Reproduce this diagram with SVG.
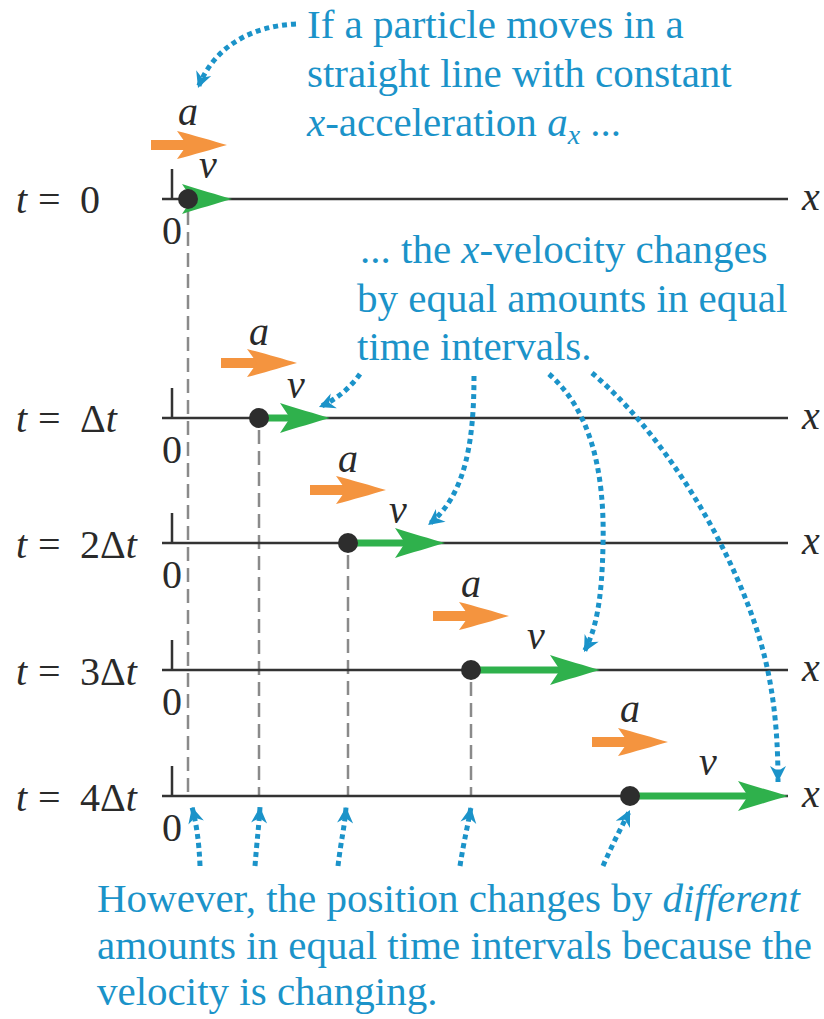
<svg xmlns="http://www.w3.org/2000/svg" width="824" height="1019" viewBox="0 0 824 1019">
<style>
text{font-family:'Liberation Serif','Times New Roman',Tinos,'DejaVu Serif',serif}
.lbl{font-size:40px;fill:#2a2a2a}
.it{font-style:italic}
.blue{font-size:41px;fill:#1b93c9}
.axis{stroke:#333;stroke-width:2.5;fill:none}
.dash{stroke:#8a8a8a;stroke-width:2.5;stroke-dasharray:14 7;fill:none}
.dot{fill:#2d2d2d}
.gs{stroke:#2fb14c;stroke-width:7;fill:none}
.g{fill:#2fb14c}
.o{fill:#f4943f}
.bl{stroke:#1b93c9;stroke-width:5;stroke-dasharray:5 4;fill:none;marker-end:url(#bh)}
</style>
<defs>
<path id="gh" d="M0,0 C-14,-4 -34,-10 -50,-15 L-40,0 L-50,15 C-34,10 -14,4 0,0Z"/>
<g id="oa"><rect x="-76" y="-5" width="40" height="10"/><path d="M0,0 C-14,-4 -34,-10 -50,-14 L-40,0 L-50,14 C-34,10 -14,4 0,0Z"/></g>
<marker id="bh" viewBox="-17 -9 19 18" refX="0" refY="0" markerWidth="19" markerHeight="18" orient="auto" markerUnits="userSpaceOnUse"><path d="M0,0 L-16,-8 L-11,0 L-16,8Z" fill="#1b93c9"/></marker>
</defs>

<g id="guides">
<line class="dash" x1="188" y1="211" x2="188" y2="796"/>
<line class="dash" x1="259" y1="430" x2="259" y2="796"/>
<line class="dash" x1="348" y1="555" x2="348" y2="796"/>
<line class="dash" x1="471" y1="682" x2="471" y2="796"/>
</g>

<g id="row0">
<path class="axis" d="M172,169 V199 M162,199 H788"/>
<text class="lbl" font-family="Liberation Serif, serif" x="172" y="244" text-anchor="middle">0</text>
<text class="lbl" font-family="Liberation Serif, serif"><tspan class="it" x="16" y="213">t</tspan><tspan x="38" y="213">=</tspan><tspan x="80" y="213">0</tspan></text>
<text class="lbl it" font-family="Liberation Serif, serif" x="802" y="210">x</text>
<use href="#oa" class="o" x="227" y="145"/>
<text class="lbl it" font-family="Liberation Serif, serif" x="188" y="125" text-anchor="middle">a</text>
<use href="#gh" class="g" x="232" y="199"/>
<circle class="dot" cx="188" cy="199" r="10"/>
<text class="lbl it" font-family="Liberation Serif, serif" x="208" y="178" text-anchor="middle">v</text>
</g>

<g id="row1">
<path class="axis" d="M172,388 V418 M162,418 H788"/>
<text class="lbl" font-family="Liberation Serif, serif" x="172" y="463" text-anchor="middle">0</text>
<text class="lbl" font-family="Liberation Serif, serif"><tspan class="it" x="16" y="432">t</tspan><tspan x="38" y="432">=</tspan><tspan x="80" y="432">Δ</tspan><tspan class="it">t</tspan></text>
<text class="lbl it" font-family="Liberation Serif, serif" x="802" y="429">x</text>
<use href="#oa" class="o" x="297" y="363"/>
<text class="lbl it" font-family="Liberation Serif, serif" x="259" y="345" text-anchor="middle">a</text>
<line class="gs" x1="259" y1="418" x2="295" y2="418"/>
<use href="#gh" class="g" x="330" y="418"/>
<circle class="dot" cx="259" cy="418" r="10"/>
<text class="lbl it" font-family="Liberation Serif, serif" x="296" y="398" text-anchor="middle">v</text>
</g>

<g id="row2">
<path class="axis" d="M172,513 V543 M162,543 H788"/>
<text class="lbl" font-family="Liberation Serif, serif" x="172" y="588" text-anchor="middle">0</text>
<text class="lbl" font-family="Liberation Serif, serif"><tspan class="it" x="16" y="558">t</tspan><tspan x="38" y="558">=</tspan><tspan x="80" y="558">2Δ</tspan><tspan class="it">t</tspan></text>
<text class="lbl it" font-family="Liberation Serif, serif" x="802" y="554">x</text>
<use href="#oa" class="o" x="386" y="490"/>
<text class="lbl it" font-family="Liberation Serif, serif" x="348" y="472" text-anchor="middle">a</text>
<line class="gs" x1="348" y1="543" x2="410" y2="543"/>
<use href="#gh" class="g" x="445" y="543"/>
<circle class="dot" cx="348" cy="543" r="10"/>
<text class="lbl it" font-family="Liberation Serif, serif" x="398" y="523" text-anchor="middle">v</text>
</g>

<g id="row3">
<path class="axis" d="M172,640 V670 M162,670 H788"/>
<text class="lbl" font-family="Liberation Serif, serif" x="172" y="715" text-anchor="middle">0</text>
<text class="lbl" font-family="Liberation Serif, serif"><tspan class="it" x="16" y="685">t</tspan><tspan x="38" y="685">=</tspan><tspan x="80" y="685">3Δ</tspan><tspan class="it">t</tspan></text>
<text class="lbl it" font-family="Liberation Serif, serif" x="802" y="681">x</text>
<use href="#oa" class="o" x="509" y="616"/>
<text class="lbl it" font-family="Liberation Serif, serif" x="471" y="597" text-anchor="middle">a</text>
<line class="gs" x1="471" y1="670" x2="565" y2="670"/>
<use href="#gh" class="g" x="600" y="670"/>
<circle class="dot" cx="471" cy="670" r="10"/>
<text class="lbl it" font-family="Liberation Serif, serif" x="536" y="649" text-anchor="middle">v</text>
</g>

<g id="row4">
<path class="axis" d="M172,766 V796 M162,796 H788"/>
<text class="lbl" font-family="Liberation Serif, serif" x="172" y="841" text-anchor="middle">0</text>
<text class="lbl" font-family="Liberation Serif, serif"><tspan class="it" x="16" y="811">t</tspan><tspan x="38" y="811">=</tspan><tspan x="80" y="811">4Δ</tspan><tspan class="it">t</tspan></text>
<text class="lbl it" font-family="Liberation Serif, serif" x="802" y="807">x</text>
<use href="#oa" class="o" x="668" y="742"/>
<text class="lbl it" font-family="Liberation Serif, serif" x="630" y="722" text-anchor="middle">a</text>
<line class="gs" x1="630" y1="796" x2="753" y2="796"/>
<use href="#gh" class="g" x="788" y="796"/>
<circle class="dot" cx="630" cy="796" r="10"/>
<text class="lbl it" font-family="Liberation Serif, serif" x="708" y="775" text-anchor="middle">v</text>
</g>

<g id="note-top">
<text class="blue" font-family="Liberation Serif, serif" x="307" y="38">If a particle moves in a</text>
<text class="blue" font-family="Liberation Serif, serif" x="307" y="87">straight line with constant</text>
<text class="blue" font-family="Liberation Serif, serif" x="307" y="136"><tspan class="it">x</tspan>-acceleration <tspan class="it">a</tspan><tspan class="it" font-size="28" dy="8">x</tspan><tspan dy="-8"> ...</tspan></text>
</g>

<g id="note-mid">
<text class="blue" font-family="Liberation Serif, serif" x="360" y="263">... the <tspan class="it">x</tspan>-velocity changes</text>
<text class="blue" font-family="Liberation Serif, serif" x="357" y="312">by equal amounts in equal</text>
<text class="blue" font-family="Liberation Serif, serif" x="357" y="360">time intervals.</text>
</g>

<g id="note-bottom">
<text class="blue" font-family="Liberation Serif, serif" x="97" y="912">However, the position changes by <tspan class="it">different</tspan></text>
<text class="blue" font-family="Liberation Serif, serif" x="97" y="959">amounts in equal time intervals because the</text>
<text class="blue" font-family="Liberation Serif, serif" x="97" y="1005">velocity is changing.</text>
</g>

<g id="connectors">
<path class="bl" d="M296,24 C252,26 214,46 198,88"/>
<path class="bl" d="M360,374 C350,388 336,400 319,407"/>
<path class="bl" d="M474,376 C474,440 466,496 428,525"/>
<path class="bl" d="M549,374 C590,410 605,470 603,545 C602,600 596,630 584,652"/>
<path class="bl" d="M592,373 C660,430 730,540 760,640 C775,690 778,740 778,782"/>
<path class="bl" d="M200,866 C199,840 196,822 192,807"/>
<path class="bl" d="M255,866 C257,840 259,825 260,807"/>
<path class="bl" d="M338,866 C341,840 345,825 346,807"/>
<path class="bl" d="M460,866 C464,840 468,825 471,807"/>
<path class="bl" d="M603,866 C612,845 622,826 630,810"/>
</g>
</svg>
